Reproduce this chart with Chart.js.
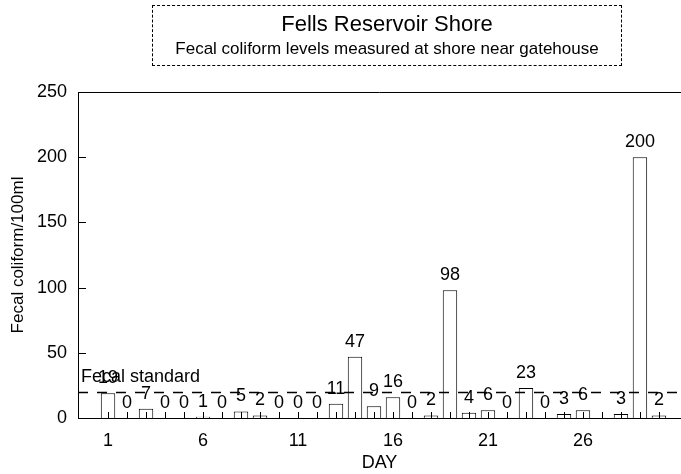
<!DOCTYPE html>
<html>
<head>
<meta charset="utf-8">
<script src="https://cdn.jsdelivr.net/npm/chart.js@4.4.1/dist/chart.umd.min.js"></script>
<style>
  body { margin: 0; background: #fff; font-family: "Liberation Sans", Arial, sans-serif; }
  #wrap { position: relative; width: 681px; height: 474px; }
  #titleBox {
    position: absolute; left: 152px; top: 5px; width: 468px; height: 59px;
    border: 1px dashed #000; text-align: center; color: #000;
  }
  #titleBox .main { font-size: 22px; line-height: 26px; margin-top: 5px; }
  #titleBox .sub { font-size: 17px; line-height: 20px; margin-top: 2px; }
</style>
</head>
<body>
<div id="wrap">
  <canvas id="chart" width="681" height="474"></canvas>
  <div id="titleBox">
    <div class="main">Fells Reservoir Shore</div>
    <div class="sub">Fecal coliform levels measured at shore near gatehouse</div>
  </div>
</div>
<script>
const days = [1, 2, 3, 4, 5, 6, 7, 8, 9, 10, 11, 12, 13, 14, 15, 16, 17, 18, 19, 20, 21, 22, 23, 24, 25, 26, 27, 28, 29, 30];
const counts = [19, 0, 7, 0, 0, 1, 0, 5, 2, 0, 0, 0, 11, 47, 9, 16, 0, 2, 98, 4, 6, 0, 23, 0, 3, 6, null, 3, 200, 2];
const dayTicks = [1, 6, 11, 16, 21, 26];
const yTicks = [0, 50, 100, 150, 200, 250];
const fecalStandard = 20;
const standardLabel = "Fecal standard";

const font = { family: "'Liberation Sans', Arial, sans-serif", size: 18 };

// frame line, inward ticks, standard line and value labels
const annotate = {
  id: "annotate",
  afterDatasetsDraw(chart) {
    const { ctx, chartArea: area, scales: { x, y } } = chart;
    ctx.save();
    ctx.strokeStyle = "#000";
    ctx.lineWidth = 1;
    ctx.beginPath();
    ctx.moveTo(area.left, area.top + 0.5);
    ctx.lineTo(area.right, area.top + 0.5);
    days.forEach((day) => {
      const px = Math.round(x.getPixelForValue(day)) + 0.5;
      ctx.moveTo(px, area.bottom);
      ctx.lineTo(px, area.bottom - 6);
    });
    yTicks.forEach((value) => {
      const py = Math.round(y.getPixelForValue(value)) + 0.5;
      ctx.moveTo(area.left, py);
      ctx.lineTo(area.left + 8, py);
    });
    ctx.stroke();

    const sy = Math.round(y.getPixelForValue(fecalStandard)) + 0.5;
    ctx.setLineDash([10, 9]);
    ctx.lineWidth = 1.5;
    ctx.beginPath();
    ctx.moveTo(area.left, sy);
    ctx.lineTo(area.right, sy);
    ctx.stroke();
    ctx.setLineDash([]);

    ctx.fillStyle = "#000";
    ctx.font = `${font.size}px ${font.family}`;
    ctx.textAlign = "left";
    ctx.textBaseline = "alphabetic";
    ctx.fillText(standardLabel, area.left + 3, sy - 11);

    ctx.textAlign = "center";
    chart.getDatasetMeta(0).data.forEach((bar, i) => {
      if (counts[i] == null) return;
      ctx.fillText(String(counts[i]), bar.x, bar.y - 10);
    });
    ctx.restore();
  },
};

new Chart(document.querySelector("#chart"), {
  type: "bar",
  data: {
    datasets: [{
      data: days.map((day, i) => ({ x: day, y: counts[i] })),
      backgroundColor: "#fff",
      borderColor: "#000",
      borderWidth: 1,
      barPercentage: 0.76,
      categoryPercentage: 1,
    }],
  },
  options: {
    responsive: false,
    animation: false,
    layout: { padding: { top: 92, left: 0, right: 0, bottom: 0 } },
    plugins: { legend: { display: false }, tooltip: { enabled: false } },
    scales: {
      x: {
        type: "linear",
        offset: false,
        min: -0.58,
        max: 31.16,
        afterBuildTicks: (scale) => { scale.ticks = dayTicks.map((value) => ({ value })); },
        afterFit: (scale) => { scale.height = 56; },
        ticks: { font, color: "#000", padding: 12, maxRotation: 0, autoSkip: false },
        grid: { display: false, drawTicks: false, offset: false },
        border: { display: true, color: "#000", width: 1 },
        title: { display: true, text: "DAY", font, color: "#000", padding: 0 },
      },
      y: {
        min: 0,
        max: 250,
        afterBuildTicks: (scale) => { scale.ticks = yTicks.map((value) => ({ value })); },
        afterFit: (scale) => { scale.width = 78; },
        ticks: { font, color: "#000", padding: 11 },
        grid: { display: false, drawTicks: false },
        border: { display: true, color: "#000", width: 1 },
        title: {
          display: true,
          text: "Fecal coliform/100ml",
          font: { family: font.family, size: 17 },
          color: "#000",
          padding: { top: 8, bottom: 0 },
        },
      },
    },
  },
  plugins: [annotate],
});
</script>
</body>
</html>
